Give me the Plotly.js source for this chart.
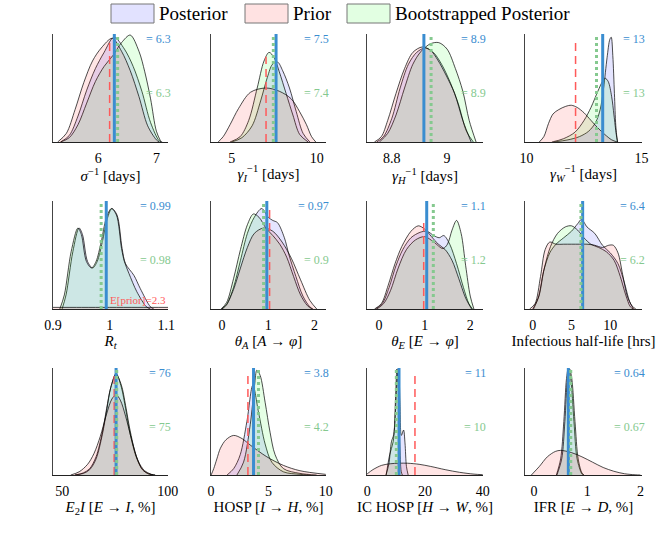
<!DOCTYPE html>
<html>
<head>
<meta charset="utf-8">
<script src="https://cdn.plot.ly/plotly-3.0.1.min.js"></script>
<style>html,body{margin:0;padding:0;background:#fff;}#chart{width:670px;height:535px;}</style>
</head>
<body>
<div id="chart"></div>
<script>
// ---------- data (densities scaled to panel height) ----------
// Panel 1: sigma^-1
const sigPriorX = [5.30,5.45,5.6,5.75,5.9,6.05,6.24,6.4,6.55,6.7,6.85,7.0,7.05];
const sigPriorY = [0,0.08,0.3,0.55,0.75,0.87,0.96,0.84,0.66,0.42,0.15,0.02,0];
const sigPostX = [5.35,5.5,5.65,5.8,5.95,6.1,6.27,6.45,6.6,6.75,6.9,7.05,7.1];
const sigPostY = [0,0.06,0.24,0.48,0.68,0.83,0.97,0.86,0.7,0.47,0.18,0.01,0];
const sigBootX = [5.35,5.5,5.65,5.8,5.95,6.1,6.25,6.4,6.55,6.7,6.8,6.9,7.0,7.08];
const sigBootY = [0,0.04,0.16,0.36,0.56,0.7,0.8,0.92,0.99,0.84,0.65,0.4,0.1,0];
// Panel 2: gamma_I^-1
const gIPriorX = [4.2,4.5,4.9,5.4,6.1,7.0,7.8,8.5,9.0,9.4,9.7,9.95];
const gIPriorY = [0,0.05,0.16,0.31,0.46,0.5,0.47,0.4,0.28,0.16,0.05,0];
const gIPostX = [5.0,5.6,6.2,6.7,7.1,7.4,7.7,8.0,8.4,8.8,9.2,9.6];
const gIPostY = [0,0.04,0.15,0.38,0.6,0.72,0.74,0.66,0.5,0.28,0.08,0];
const gIBootX = [4.9,5.5,6.0,6.5,6.9,7.2,7.5,7.8,8.2,8.6,9.0,9.5];
const gIBootY = [0,0.05,0.2,0.5,0.75,0.83,0.78,0.65,0.45,0.25,0.07,0];
// Panel 3: gamma_H^-1
const gHPriorX = [8.737,8.762,8.785,8.815,8.846,8.876,8.91,8.94,8.966,8.996,9.027,9.057,9.087];
const gHPriorY = [0,0.05,0.2,0.45,0.68,0.83,0.88,0.85,0.76,0.62,0.45,0.2,0];
const gHPostX = [8.745,8.77,8.80,8.83,8.86,8.89,8.92,8.95,8.98,9.01,9.04,9.07,9.095];
const gHPostY = [0,0.05,0.22,0.5,0.72,0.83,0.87,0.83,0.72,0.56,0.36,0.1,0];
const gHBootX = [8.755,8.785,8.815,8.846,8.876,8.906,8.94,8.97,9.0,9.03,9.057,9.08,9.105];
const gHBootY = [0,0.08,0.25,0.5,0.72,0.84,0.91,0.92,0.86,0.68,0.47,0.2,0];
// Panel 4: gamma_W^-1
const gWPriorX = [10.55,10.75,10.95,11.15,11.4,11.7,11.95,12.2,12.5,12.8,13.1,13.4,13.7,13.95];
const gWPriorY = [0,0.05,0.17,0.26,0.3,0.33,0.34,0.32,0.27,0.2,0.13,0.07,0.02,0];
const gWPostX = [11.2,11.8,12.3,12.7,13.0,13.2,13.35,13.5,13.62,13.68,13.75,13.82,13.88,13.95];
const gWPostY = [0,0.02,0.05,0.1,0.18,0.3,0.5,0.78,0.95,0.97,0.8,0.45,0.15,0];
const gWBootX = [11.1,11.6,12.1,12.5,12.8,13.1,13.3,13.42,13.55,13.7,13.8,13.9,13.96];
const gWBootY = [0,0.03,0.09,0.2,0.32,0.47,0.56,0.59,0.56,0.42,0.25,0.07,0];
// Panel 5: R_t
const rtPriorX = [0.9,0.95,1.0,1.05,1.103];
const rtPriorY = [0.015,0.015,0.015,0.015,0.015];
const rtPostX = [0.916,0.923,0.935,0.946,0.952,0.961,0.970,0.978,0.987,0.996,1.004,1.013,1.022,1.028,1.043,1.054,1.072,1.078];
const rtPostY = [0,0.13,0.53,0.75,0.69,0.44,0.38,0.44,0.62,0.84,0.93,0.87,0.56,0.42,0.31,0.19,0.02,0];
const rtBootX = [0.912,0.920,0.932,0.944,0.950,0.959,0.968,0.976,0.985,0.994,1.003,1.012,1.021,1.026,1.034,1.048,1.065,1.072];
const rtBootY = [0,0.13,0.53,0.75,0.69,0.44,0.38,0.44,0.62,0.84,0.93,0.87,0.56,0.44,0.33,0.16,0.02,0];
// Panel 6: theta_A
const tAPriorX = [0.0,0.1,0.25,0.4,0.55,0.7,0.9,1.1,1.3,1.5,1.7,1.9,2.05];
const tAPriorY = [0,0.04,0.18,0.38,0.57,0.7,0.75,0.72,0.62,0.47,0.27,0.08,0];
const tAPostX = [0.0,0.1,0.25,0.4,0.55,0.7,0.86,1.0,1.1,1.2,1.35,1.45,1.6,1.75,1.9,1.97];
const tAPostY = [0,0.04,0.2,0.45,0.7,0.85,0.93,0.85,0.82,0.8,0.66,0.5,0.3,0.12,0.02,0];
const tABootX = [-0.02,0.1,0.25,0.4,0.55,0.68,0.8,0.95,1.1,1.25,1.4,1.55,1.7,1.85,1.95];
const tABootY = [0,0.06,0.28,0.55,0.78,0.88,0.85,0.75,0.68,0.6,0.48,0.3,0.13,0.03,0];
// Panel 7: theta_E
const tEPriorX = [-0.1,0.05,0.2,0.35,0.5,0.7,0.86,1.0,1.15,1.3,1.45,1.6,1.75,1.9,2.03];
const tEPriorY = [0,0.05,0.22,0.42,0.58,0.72,0.77,0.74,0.67,0.6,0.55,0.45,0.28,0.1,0];
const tEPostX = [-0.08,0.07,0.22,0.37,0.52,0.7,0.9,1.05,1.2,1.32,1.42,1.55,1.7,1.85,1.97,2.05];
const tEPostY = [0,0.05,0.2,0.4,0.55,0.66,0.71,0.72,0.68,0.66,0.68,0.6,0.42,0.2,0.05,0];
const tEBootX = [-0.05,0.1,0.25,0.42,0.6,0.8,1.0,1.2,1.4,1.5,1.6,1.7,1.8,1.9,2.0,2.08];
const tEBootY = [0,0.05,0.17,0.38,0.55,0.64,0.67,0.62,0.56,0.6,0.73,0.82,0.7,0.4,0.12,0];
// Panel 8: infectious half-life
const hlPriorX = [-0.4,0.3,1.0,1.6,2.2,3,4,5,6,7,8,9,9.8,10.4,11,11.6,12.2,12.8,13.3];
const hlPriorY = [0,0.05,0.3,0.55,0.62,0.6,0.6,0.6,0.6,0.6,0.59,0.57,0.59,0.59,0.52,0.32,0.12,0.03,0];
const hlPostX = [0,0.7,1.4,2.2,3,4,5,5.8,6.3,7,8,9,10,11,11.8,12.5,13];
const hlPostY = [0,0.1,0.35,0.52,0.6,0.66,0.72,0.79,0.83,0.76,0.7,0.59,0.52,0.42,0.25,0.07,0];
const hlBootX = [0.1,0.8,1.5,2.3,3.2,4.2,5,5.8,6.6,7.5,8.5,9.5,10.5,11.3,12,12.6,13];
const hlBootY = [0,0.12,0.38,0.58,0.7,0.76,0.77,0.73,0.66,0.6,0.57,0.53,0.45,0.3,0.13,0.02,0];
// Panel 9: E2I
const eiPriorX = [54,58,62,65,68,71,73.5,75.5,77.5,80,83,86,89,93];
const eiPriorY = [0,0.03,0.1,0.2,0.36,0.57,0.71,0.75,0.7,0.55,0.32,0.13,0.04,0];
const eiPostX = [56,60,63,66,69,71,73,75.5,78,80,82,85,88,91,94];
const eiPostY = [0,0.02,0.06,0.17,0.4,0.62,0.82,0.95,0.82,0.62,0.4,0.17,0.05,0.01,0];
const eiBootX = [56,60,63,66,69,71,73,75.5,78,80,82,85,88,91,94];
const eiBootY = [0,0.015,0.05,0.15,0.38,0.6,0.82,0.94,0.84,0.65,0.43,0.18,0.05,0.01,0];
// Panel 10: HOSP
const hoPriorX = [0,0.23,0.5,0.81,1.3,1.97,2.7,3.41,4.86,6.3,7.75,10];
const hoPriorY = [0,0.06,0.15,0.25,0.33,0.37,0.34,0.28,0.17,0.09,0.04,0.006];
const hoPostX = [1.39,1.97,2.54,3.12,3.64,4.13,4.71,5.29,6.3,7.75,8.5];
const hoPostY = [0,0.06,0.19,0.5,0.84,0.59,0.29,0.12,0.03,0.006,0];
const hoBootX = [2.25,2.83,3.41,3.79,3.99,4.28,4.71,5.14,5.58,6.3,7.75,9.2];
const hoBootY = [0,0.12,0.47,0.84,0.98,0.93,0.68,0.4,0.19,0.06,0.015,0];
// Panel 11: IC HOSP
const icPriorX = [0,2,5,8,11,14,18,22,27,32,37,40];
const icPriorY = [0.01,0.05,0.09,0.105,0.11,0.11,0.1,0.08,0.05,0.025,0.008,0.003];
const icPostX = [6.6,7.8,9.0,9.8,10.45,10.9,11.35,11.85,12.6,13.1,13.6,14.2];
const icPostY = [0,0.19,0.31,0.59,0.93,1.0,0.68,0.37,0.42,0.3,0.08,0];
const icBootX = [6.5,7.5,8.4,9.2,9.8,10.3,10.8,11.3,11.8,12.2];
const icBootY = [0,0.1,0.31,0.38,0.7,0.99,0.8,0.3,0.03,0];
// Panel 12: IFR
const ifPriorX = [-0.05,0.1,0.25,0.4,0.5,0.7,0.9,1.1,1.3,1.5,1.7,1.9,2.0];
const ifPriorY = [0,0.08,0.17,0.22,0.23,0.21,0.17,0.12,0.07,0.035,0.012,0.002,0];
const ifPostX = [0.42,0.5,0.56,0.61,0.645,0.69,0.75,0.81,0.9,0.93];
const ifPostY = [0,0.15,0.5,0.9,1.0,0.9,0.5,0.15,0.01,0];
const ifBootX = [0.43,0.52,0.58,0.63,0.67,0.71,0.77,0.83,0.9,0.94];
const ifBootY = [0,0.15,0.5,0.9,0.99,0.9,0.5,0.15,0.02,0];

// means, labels, axes
const priorMeans = [6.195, 7.02, 8.916, 12.13, 2.3, 1.03, 0.979, 6.44, 74.6, 3.21, 16.55, 0.64];
const priorLineTop = [0.96, 0.79, 1, 0.95, 1, 0.95, 0.82, 1, 0.95, 0.95, 0.95, 1];
const postMeans = [6.276, 7.61, 8.916, 13.31, 0.994, 0.97, 1.045, 6.44, 75.5, 3.7, 11.03, 0.645];
const bootMeans = [6.333, 7.45, 8.942, 13.04, 0.985, 0.9, 1.19, 6.22, 75.8, 4.13, 10.1, 0.69];
const postLabels = ['6.3','7.5','8.9','13','0.99','0.97','1.1','6.4','76','3.8','11','0.64'];
const bootLabels = ['6.3','7.4','8.9','13','0.98','0.9','1.2','6.2','75','4.2','10','0.67'];
const xRanges = [[5.22,7.2],[3.78,10.55],[8.71,9.13],[9.93,15.02],[0.9,1.103],[-0.237,2.25],[-0.265,2.28],[-1.0,14.1],[45.6,100.1],[-0.01,10.02],[-0.05,40.1],[-0.17,2.03]];
const tickVals = [[6,7],[5,10],[8.8,9],[10,15],[0.9,1,1.1],[0,1,2],[0,1,2],[0,5,10],[50,100],[0,5,10],[0,20,40],[0,1,2]];
const tickText = [['6','7'],['5','10'],['8.8','9'],['10','15'],['0.9','1','1.1'],['0','1','2'],['0','1','2'],['0','5','10'],['50','100'],['0','5','10'],['0','20','40'],['0','1','2']];
const xTitles = [
  '<i>σ</i><sup>−1</sup> [days]',
  '<i>γ</i><sub><i>I</i></sub><sup>−1</sup> [days]',
  '<i>γ</i><sub><i>H</i></sub><sup>−1</sup> [days]',
  '<i>γ</i><sub><i>W</i></sub><sup>−1</sup> [days]',
  '<i>R</i><sub><i>t</i></sub>',
  '<i>θ</i><sub><i>A</i></sub> [<i>A</i> → <i>φ</i>]',
  '<i>θ</i><sub><i>E</i></sub> [<i>E</i> → <i>φ</i>]',
  'Infectious half-life [hrs]',
  '<i>E</i><sub>2</sub><i>I</i> [<i>E</i> → <i>I</i>, %]',
  'HOSP [<i>I</i> → <i>H</i>, %]',
  'IC HOSP [<i>H</i> → <i>W</i>, %]',
  'IFR [<i>E</i> → <i>D</i>, %]'
];
const densities = [
  [sigPriorX,sigPriorY,sigPostX,sigPostY,sigBootX,sigBootY],
  [gIPriorX,gIPriorY,gIPostX,gIPostY,gIBootX,gIBootY],
  [gHPriorX,gHPriorY,gHPostX,gHPostY,gHBootX,gHBootY],
  [gWPriorX,gWPriorY,gWPostX,gWPostY,gWBootX,gWBootY],
  [rtPriorX,rtPriorY,rtPostX,rtPostY,rtBootX,rtBootY],
  [tAPriorX,tAPriorY,tAPostX,tAPostY,tABootX,tABootY],
  [tEPriorX,tEPriorY,tEPostX,tEPostY,tEBootX,tEBootY],
  [hlPriorX,hlPriorY,hlPostX,hlPostY,hlBootX,hlBootY],
  [eiPriorX,eiPriorY,eiPostX,eiPostY,eiBootX,eiBootY],
  [hoPriorX,hoPriorY,hoPostX,hoPostY,hoBootX,hoBootY],
  [icPriorX,icPriorY,icPostX,icPostY,icBootX,icBootY],
  [ifPriorX,ifPriorY,ifPostX,ifPostY,ifBootX,ifBootY]
];
const legendNames = ['Posterior','Prior','Bootstrapped Posterior'];

// ---------- layout / styles ----------
const W = 670, H = 535;
const FONT = 'Liberation Serif';
const colX = [[53,168],[211,326],[367,483],[525,642]];
const rowY = [[34,142],[201,309],[368,475]];
const FILLS = ['rgba(255,0,0,0.1)', 'rgba(0,0,255,0.1)', 'rgba(0,255,0,0.1)']; // prior, posterior, bootstrap
const DRAW_ORDER = [1, 2, 0]; // posterior, bootstrap, then prior on top
const BLUE = '#3a8dd0', GREEN = '#85c98f', RED = '#ff5a5a';

const traces = [];
const layout = {
  width: W, height: H, margin:{l:0,r:0,t:0,b:0}, showlegend:false,
  paper_bgcolor:'#fff', plot_bgcolor:'rgba(0,0,0,0)', hovermode:false,
  font:{family:FONT, color:'#000', size:13}, annotations:[], shapes:[]
};

for (let i = 0; i < 12; i++) {
  const r = Math.floor(i/4), c = i % 4;
  const s = i === 0 ? '' : String(i+1);
  const xk = 'x'+s, yk = 'y'+s;
  const d = densities[i];
  for (const k of DRAW_ORDER) {
    traces.push({x:d[2*k], y:d[2*k+1], xaxis:xk, yaxis:yk, type:'scatter', mode:'lines',
      fill:'tozeroy', fillcolor:FILLS[k], line:{color:'#000', width:0.7, shape:'spline', smoothing:0.9}});
  }
  traces.push({x:[priorMeans[i],priorMeans[i]], y:[0,priorLineTop[i]], xaxis:xk, yaxis:yk, type:'scatter', mode:'lines',
    line:{color:RED, width:1.5, dash:'8px,5px'}});
  traces.push({x:[postMeans[i],postMeans[i]], y:[0,1], xaxis:xk, yaxis:yk, type:'scatter', mode:'lines',
    line:{color:BLUE, width:3}});
  traces.push({x:[bootMeans[i],bootMeans[i]], y:[0,1], xaxis:xk, yaxis:yk, type:'scatter', mode:'lines',
    line:{color:GREEN, width:3, dash:'dot'}});

  layout['xaxis'+s] = {
    domain:[colX[c][0]/W, colX[c][1]/W], range:xRanges[i], anchor:yk,
    tickvals:tickVals[i], ticktext:tickText[i], ticks:'', showgrid:false, zeroline:false,
    showline:true, linecolor:'#222', linewidth:1, ticklabelstandoff:3,
    tickfont:{family:FONT, size:14, color:'#000'},
    title:{text:xTitles[i], font:{family:FONT, size:15, color:'#000'}, standoff:3}
  };
  layout['yaxis'+s] = {
    domain:[1-rowY[r][1]/H, 1-rowY[r][0]/H], range:[0,1], anchor:xk,
    showticklabels:false, ticks:'', showgrid:false, zeroline:false,
    showline:true, linecolor:'#444', linewidth:1
  };
  layout.annotations.push({xref:xk+' domain', yref:yk+' domain', x:1.04, y:0.95, xanchor:'right', yanchor:'middle',
    text:'= '+postLabels[i], showarrow:false, font:{family:FONT, size:12, color:BLUE}});
  layout.annotations.push({xref:xk+' domain', yref:yk+' domain', x:1.04, y:0.45, xanchor:'right', yanchor:'middle',
    text:'= '+bootLabels[i], showarrow:false, font:{family:FONT, size:12, color:GREEN}});
}
layout.annotations.push({xref:'x5 domain', yref:'y5 domain', x:1.0, y:0.08, xanchor:'right', yanchor:'middle',
  text:'E[prior]=2.3', showarrow:false, font:{family:FONT, size:11, color:RED}});

// legend drawn as boxes + labels on paper
const legBoxes = [[111,154],[245,288],[347,390]];
const legFills = ['#e2e2ff','#ffe2e2','#e2ffe2'];
for (let k = 0; k < 3; k++) {
  layout.shapes.push({type:'rect', xref:'paper', yref:'paper', x0:legBoxes[k][0]/W, x1:legBoxes[k][1]/W,
    y0:1-23/H, y1:1-4/H, fillcolor:legFills[k], line:{color:'#777', width:1}});
  layout.annotations.push({xref:'paper', yref:'paper', x:(legBoxes[k][1]+3)/W, y:1-13.5/H, xanchor:'left', yanchor:'middle',
    text:legendNames[k], showarrow:false, font:{family:FONT, size:19, color:'#000'}});
}

Plotly.newPlot('chart', traces, layout, {staticPlot:true, displayModeBar:false});
</script>
</body>
</html>
